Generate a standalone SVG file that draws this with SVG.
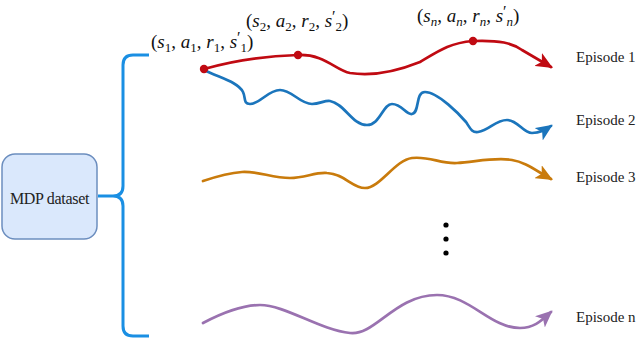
<svg xmlns="http://www.w3.org/2000/svg" width="640" height="340" viewBox="0 0 640 340">
<style>
.c{fill:none;stroke-width:2.7;stroke-linecap:round;stroke-linejoin:round}
</style>
<defs>
<marker id="ar" markerUnits="userSpaceOnUse" viewBox="0 0 16 14" markerWidth="17" markerHeight="15" refX="14" refY="7" orient="auto"><path d="M0,0 L16,7 L0,14 L4,7 z" fill="#c00a12"/></marker>
<marker id="ab" markerUnits="userSpaceOnUse" viewBox="0 0 16 14" markerWidth="17" markerHeight="15" refX="14" refY="7" orient="auto"><path d="M0,0 L16,7 L0,14 L4,7 z" fill="#1b75bc"/></marker>
<marker id="ao" markerUnits="userSpaceOnUse" viewBox="0 0 16 14" markerWidth="17" markerHeight="15" refX="14" refY="7" orient="auto"><path d="M0,0 L16,7 L0,14 L4,7 z" fill="#c97b0c"/></marker>
<marker id="ap" markerUnits="userSpaceOnUse" viewBox="0 0 16 14" markerWidth="17" markerHeight="15" refX="14" refY="7" orient="auto"><path d="M0,0 L16,7 L0,14 L4,7 z" fill="#9a72b0"/></marker>
</defs>
<rect width="640" height="340" fill="#fff"/>
<g id="mdp">
<rect x="2" y="154" width="95" height="85" rx="13" fill="#dae8fc" stroke="#6c8ebf" stroke-width="1.5"/>
<text x="49.5" y="204" text-anchor="middle" font-family="Liberation Serif" font-size="16" fill="#222" letter-spacing="-0.3">MDP dataset</text>
</g>
<g id="connectors">
<path d="M98,196 L113,196 Q123,196 123,186 L123,65 Q123,55 133,55 L149,55 M113,196 Q123,196 123,206 L123,326 Q123,336 133,336 L149,336" fill="none" stroke="#1a8fe3" stroke-width="3"/>
<path class="c" stroke="#c00a12" marker-end="url(#ar)" d="M204,69 C235,60 265,56 298,55 C325,54 335,70 350,73 C375,77 400,70 420,62 C440,50 450,43 473,41 C500,40 512,43 522,50 L551,67"/>
<path class="c" stroke="#1b75bc" marker-end="url(#ab)" d="M204,70 C220,78 238,82 243,92 C246,98 243,104 250,104 C260,104 268,90 280,90 C292,90 300,104 312,104 C320,104 325,100 330,101 C345,104 352,125 367,125 C380,125 383,104 392,104 C402,104 406,115 412,114 C420,113 415,92 425,92 C438,92 460,115 466,122 C470,128 472,133 478,132 C490,130 495,120 507,120 C518,120 523,133 532,133 C540,133 545,130 551,126"/>
<path class="c" stroke="#c97b0c" marker-end="url(#ao)" d="M203,181 C215,177 228,173 242,172 C258,171 272,178 290,178 C305,178 315,172 327,173 C345,174 352,188 365,188 C380,188 395,160 412,158 C430,156 440,164 457,163 C475,162 495,157 512,160 C525,162 535,170 551,179"/>
<path class="c" stroke="#9a72b0" marker-end="url(#ap)" d="M203,323 C220,314 240,305 260,305 C285,305 320,330 350,333 C375,336 395,295 437,295 C470,295 490,328 520,328 C535,328 542,320 551,312"/>
</g>
<g id="states" fill="#c00a12">
<circle cx="204" cy="69" r="4.2"/>
<circle cx="298" cy="55" r="4.2"/>
<circle cx="473" cy="41" r="4.2"/>
</g>
<g id="label-s1">
<text font-family="Liberation Serif" font-size="19" fill="#111" x="151" y="48">(<tspan font-style="italic">s</tspan><tspan font-size="13" dy="4">1</tspan><tspan dy="-4">, </tspan><tspan font-style="italic">a</tspan><tspan font-size="13" dy="4">1</tspan><tspan dy="-4">, </tspan><tspan font-style="italic">r</tspan><tspan font-size="13" dy="4">1</tspan><tspan dy="-4">, </tspan><tspan font-style="italic">s</tspan><tspan font-size="16" dy="-5">′</tspan><tspan font-size="13" dy="9">1</tspan><tspan dy="-4">)</tspan></text>
</g>
<g id="label-s2">
<text font-family="Liberation Serif" font-size="19" fill="#111" x="246" y="27">(<tspan font-style="italic">s</tspan><tspan font-size="13" dy="4">2</tspan><tspan dy="-4">, </tspan><tspan font-style="italic">a</tspan><tspan font-size="13" dy="4">2</tspan><tspan dy="-4">, </tspan><tspan font-style="italic">r</tspan><tspan font-size="13" dy="4">2</tspan><tspan dy="-4">, </tspan><tspan font-style="italic">s</tspan><tspan font-size="16" dy="-5">′</tspan><tspan font-size="13" dy="9">2</tspan><tspan dy="-4">)</tspan></text>
</g>
<g id="label-sn">
<text font-family="Liberation Serif" font-size="19" fill="#111" x="417" y="22">(<tspan font-style="italic">s</tspan><tspan font-size="13" font-style="italic" dy="4">n</tspan><tspan dy="-4">, </tspan><tspan font-style="italic">a</tspan><tspan font-size="13" font-style="italic" dy="4">n</tspan><tspan dy="-4">, </tspan><tspan font-style="italic">r</tspan><tspan font-size="13" font-style="italic" dy="4">n</tspan><tspan dy="-4">, </tspan><tspan font-style="italic">s</tspan><tspan font-size="16" dy="-5">′</tspan><tspan font-size="13" font-style="italic" dy="9">n</tspan><tspan dy="-4">)</tspan></text>
</g>
<g id="ep1"><text font-family="Liberation Serif" font-size="15" fill="#222" x="576" y="62">Episode 1</text></g>
<g id="ep2"><text font-family="Liberation Serif" font-size="15" fill="#222" x="576" y="125">Episode 2</text></g>
<g id="ep3"><text font-family="Liberation Serif" font-size="15" fill="#222" x="576" y="182">Episode 3</text></g>
<g id="epn"><text font-family="Liberation Serif" font-size="15" fill="#222" x="576" y="322">Episode n</text></g>
<g id="ellipsis" fill="#000">
<circle cx="446" cy="225" r="2.6"/>
<circle cx="446" cy="239" r="2.6"/>
<circle cx="446" cy="253" r="2.6"/>
</g>
</svg>
